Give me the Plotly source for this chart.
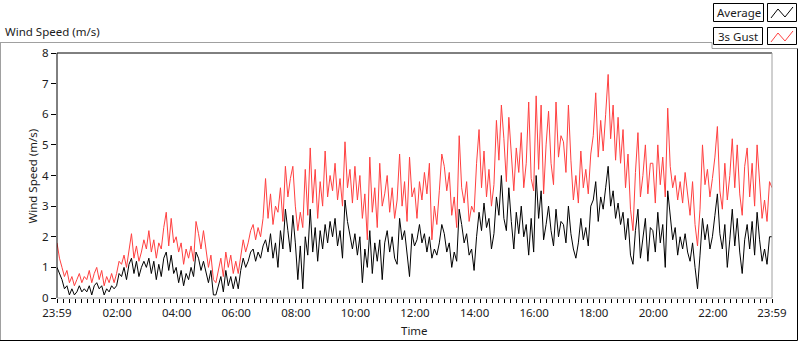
import pandas as pd
import plotly.graph_objects as go

# ---- data (5-minute samples, 23:59 -> 23:59) ----
gust = [
    1.8, 1.3, 1.0, 0.7, 0.9, 0.5, 0.7, 0.4, 0.6, 0.8, 0.5, 0.7,
    0.6, 0.9, 0.5, 0.8, 1.0, 0.6, 0.9, 0.4, 0.7, 0.5, 0.8, 0.5,
    0.8, 1.2, 1.1, 1.4, 1.0, 1.6, 2.1, 1.3, 1.7, 1.2, 1.5, 1.9,
    1.6, 2.2, 1.5, 1.9, 1.3, 1.8, 1.6, 2.3, 2.8, 1.7, 2.6, 1.8,
    2.0, 1.5, 1.8, 1.1, 1.6, 1.3, 1.7, 1.2, 2.5, 2.1, 1.6, 2.2,
    1.5, 1.0, 1.4, 0.6, 0.5, 0.9, 1.3, 0.7, 1.5, 1.0, 1.4, 0.8,
    1.2, 0.8, 1.4, 1.9, 1.5, 1.8, 2.2, 2.4, 1.9, 2.3, 2.0, 2.6,
    3.9, 2.6, 3.4, 2.4, 3.0, 2.8, 3.6, 2.5, 4.3, 3.3, 3.9, 4.3,
    3.0, 2.2, 2.8, 2.3, 4.2, 2.7, 4.9, 3.1, 4.2, 2.6, 3.8, 3.0,
    4.8, 3.3, 4.0, 3.5, 4.4, 3.2, 3.9, 3.0, 5.1, 3.6, 4.2, 3.1,
    4.3, 3.2, 4.0, 2.6, 3.4, 1.9, 4.6, 2.8, 3.6, 2.3, 4.4, 3.0,
    3.4, 4.0, 2.8, 3.6, 2.6, 3.2, 4.7, 3.0, 3.8, 2.5, 4.6, 3.3,
    3.6, 2.6, 3.8, 3.2, 4.1, 3.4, 4.4, 1.9, 3.0, 2.4, 3.5, 4.7,
    4.3, 3.5, 4.1, 2.7, 3.3, 2.3, 5.3, 3.6, 3.1, 3.8, 2.5, 3.0,
    2.8, 4.4, 5.5, 3.6, 4.8, 3.3, 4.2, 3.0, 3.7, 5.8, 4.5, 6.3,
    5.2, 3.8, 5.9, 4.6, 3.5, 4.9, 4.1, 5.4, 3.6, 4.4, 6.4, 3.9,
    3.5, 6.6, 4.2, 6.3, 3.4, 5.0, 6.1, 4.4, 3.7, 6.4, 4.6, 5.3,
    5.1, 4.1, 6.3, 4.5, 3.2, 4.0, 3.1, 4.8, 3.6, 4.2, 3.4, 4.7,
    5.3, 6.7, 4.6, 5.8, 4.8, 6.0, 7.3, 5.2, 6.3, 4.5, 5.9, 4.4,
    5.5, 3.6, 4.7, 2.9, 2.2, 4.1, 5.4, 3.3, 4.0, 5.0, 3.4, 4.4,
    4.4, 3.1, 5.0, 3.7, 4.6, 3.3, 6.2, 4.3, 3.6, 4.0, 3.2, 3.8,
    3.1, 4.1, 3.4, 2.7, 3.8, 2.4, 1.7, 2.9, 5.0, 3.7, 4.2, 3.3,
    3.9, 4.6, 5.6, 3.5, 2.9, 4.4, 3.2, 4.0, 5.2, 3.6, 5.0, 3.4,
    2.7, 4.3, 4.9, 3.3, 4.4, 3.0, 5.0, 3.7, 2.6, 3.2, 2.5, 3.8,
    3.6,
]
average = [
    1.0, 0.8, 0.6, 0.3, 0.4, 0.1, 0.3, 0.1, 0.2, 0.4, 0.2, 0.3,
    0.2, 0.4, 0.1, 0.4, 0.5, 0.3, 0.4, 0.1, 0.3, 0.2, 0.4, 0.3,
    0.4, 0.8, 0.7, 1.0, 0.6, 1.1, 1.3, 0.8, 1.2, 0.7, 1.0, 1.2,
    1.0, 1.3, 0.8, 1.2, 0.6, 1.1, 0.7, 1.3, 1.5, 0.9, 1.4, 0.8,
    1.0, 0.5, 0.9, 0.4, 0.8, 0.6, 1.0, 0.7, 1.5, 1.3, 0.9, 1.2,
    0.8, 0.5, 0.9, 0.1, 0.1, 0.4, 0.7, 0.2, 0.9, 0.4, 0.7, 0.3,
    0.7, 0.3, 0.9, 1.3, 1.0, 1.2, 1.5, 1.6, 1.2, 1.5, 1.3, 1.7,
    1.9, 1.5, 2.1, 1.3, 1.8, 1.0, 2.2, 1.6, 2.9, 2.2, 1.5, 2.7,
    1.8, 0.6, 1.7, 0.3, 2.0, 1.4, 2.9, 1.5, 2.3, 1.2, 2.2, 1.6,
    2.4, 1.8, 2.5, 2.0, 2.6, 1.7, 2.2, 1.3, 3.2, 2.5, 2.0, 1.6,
    2.1, 1.4, 2.0, 0.5, 1.6, 1.0, 2.2, 0.8, 1.8, 1.2, 1.9, 0.6,
    1.8, 2.2, 1.5, 2.0, 1.3, 1.1, 2.6, 1.9, 2.2, 1.5, 0.7, 2.1,
    1.7, 1.9, 2.4, 1.8, 2.1, 1.5, 2.0, 1.3, 1.6, 1.4, 1.8, 2.4,
    2.1, 1.5, 1.8, 1.0, 1.5, 1.2, 2.9, 2.4, 1.8, 2.1, 1.4, 1.6,
    0.9, 2.0, 2.8, 2.2, 3.1, 2.3, 2.6, 1.6, 2.1, 3.3, 2.7, 4.0,
    2.6, 2.2, 3.6, 2.5, 1.6, 2.8, 2.1, 3.0, 2.0, 2.4, 1.4, 2.6,
    1.5, 4.0, 2.6, 3.5, 1.9, 2.4, 3.0, 2.2, 1.7, 2.9, 2.0, 2.5,
    2.4, 1.8, 3.0, 2.1, 1.6, 1.3, 1.8, 2.6, 1.9, 2.3, 1.7, 3.0,
    3.2, 3.8, 2.5, 3.3, 2.9, 3.6, 4.3, 3.0, 3.5, 2.6, 3.1, 2.4,
    2.8, 1.9, 2.6, 1.4, 1.1, 2.2, 2.9, 1.3, 2.0, 2.6, 1.2, 2.3,
    2.2, 1.5, 2.8, 1.8, 2.4, 1.0, 3.5, 2.6, 1.9, 2.3, 1.4, 2.0,
    1.6, 2.1, 1.5, 1.2, 1.8, 1.0, 0.3, 1.4, 2.6, 1.9, 2.4, 1.6,
    2.0, 2.7, 3.4, 2.1, 1.6, 2.4, 1.0, 1.9, 2.9, 1.7, 2.6, 1.5,
    0.8, 1.9, 2.4, 1.6, 2.5, 1.4, 2.8, 1.9, 1.2, 1.6, 1.1, 2.0,
    2.0,
]
start_time = "2024-01-01 23:59"
end_time = "2024-01-02 23:59"
tick_times = ["2024-01-01 23:59", "2024-01-02 02:00", "2024-01-02 04:00",
              "2024-01-02 06:00", "2024-01-02 08:00", "2024-01-02 10:00",
              "2024-01-02 12:00", "2024-01-02 14:00", "2024-01-02 16:00",
              "2024-01-02 18:00", "2024-01-02 20:00", "2024-01-02 22:00",
              "2024-01-02 23:59"]
tick_labels = ["23:59", "02:00", "04:00", "06:00", "08:00", "10:00", "12:00",
               "14:00", "16:00", "18:00", "20:00", "22:00", "23:59"]
y_ticks = [0, 1, 2, 3, 4, 5, 6, 7, 8]

times = pd.date_range(start_time, periods=len(gust), freq="5min")

FONT = "Noto Sans, Open Sans, sans-serif"
FS = 11.5
TXT = "#1b1b1b"

fig = go.Figure()
fig.add_trace(go.Scatter(x=times, y=gust, mode="lines", name="3s Gust",
                         line=dict(color="#ff4040", width=1)))
fig.add_trace(go.Scatter(x=times, y=average, mode="lines", name="Average",
                         line=dict(color="#000000", width=1)))

# plot area in pixels: x 57..772, y 53..298
L, R, T, B = 57, 772, 53, 298
W, H = R - L, B - T


def px(x):
    return (x - L) / W


def py(y):
    return (B - y) / H


shapes = []


def seg(x0, y0, x1, y1, color, width=1):
    shapes.append(dict(type="line", xref="paper", yref="paper",
                       x0=px(x0), y0=py(y0), x1=px(x1), y1=py(y1),
                       line=dict(color=color, width=width)))


# outer frame
seg(0, 42.5, 712, 42.5, "#a0a0a0")
seg(712, 42.5, 712, 48.5, "#a0a0a0")
seg(712, 48.5, 797, 48.5, "#a0a0a0")
seg(0.5, 42.5, 0.5, 340.5, "#a0a0a0")
seg(0, 340.5, 797.5, 340.5, "#000000")
seg(797.5, 48.5, 797.5, 340.5, "#000000")
# plot area border (sunken look)
seg(L, T, R, T, "#000000")
seg(L, T, L, B, "#000000")
seg(L, B, R, B, "#a0a0a0")
seg(R, T, R, B, "#a0a0a0")


def box(x0, y0, x1, y1):
    shapes.append(dict(type="rect", xref="paper", yref="paper",
                       x0=px(x0), y0=py(y0), x1=px(x1), y1=py(y1),
                       line=dict(color="#000000", width=1), fillcolor="white"))


box(713.5, 3.5, 763.5, 21.5)
box(767.5, 3.5, 796.5, 21.5)
box(713.5, 27.5, 762.5, 44.5)
box(767.5, 27.5, 796.5, 44.5)


def zig(y0, color):
    pts = [(771, y0 + 14), (778, y0 + 5), (785, y0 + 13), (793, y0 + 3)]
    d = "M " + " L ".join(f"{px(a):.5f},{py(b):.5f}" for a, b in pts)
    shapes.append(dict(type="path", xref="paper", yref="paper", path=d,
                       line=dict(color=color, width=1)))


zig(4, "#000000")
zig(28, "#ff4040")

annotations = [
    dict(text="Wind Speed (m/s)", xref="paper", yref="paper", x=px(3), y=py(31),
         xanchor="left", yanchor="middle", showarrow=False,
         font=dict(family=FONT, size=FS, color=TXT)),
    dict(text="Wind Speed (m/s)", xref="paper", yref="paper", x=px(32), y=0.5,
         textangle=-90, xanchor="center", yanchor="middle", showarrow=False,
         font=dict(family=FONT, size=FS, color=TXT)),
    dict(text="Time", xref="paper", yref="paper", x=0.5, y=py(330),
         xanchor="center", yanchor="middle", showarrow=False,
         font=dict(family=FONT, size=FS, color=TXT)),
    dict(text="Average", xref="paper", yref="paper", x=px(738.5), y=py(12.5),
         xanchor="center", yanchor="middle", showarrow=False,
         font=dict(family=FONT, size=FS, color=TXT)),
    dict(text="3s Gust", xref="paper", yref="paper", x=px(738), y=py(36),
         xanchor="center", yanchor="middle", showarrow=False,
         font=dict(family=FONT, size=FS, color=TXT)),
]

fig.update_layout(
    width=800, height=342,
    margin=dict(l=L, r=800 - R, t=T, b=342 - B),
    paper_bgcolor="white", plot_bgcolor="white",
    showlegend=False,
    font=dict(family=FONT, size=FS, color=TXT),
    shapes=shapes, annotations=annotations,
    xaxis=dict(type="date", range=[start_time, end_time],
               tickmode="array", tickvals=tick_times, ticktext=tick_labels,
               ticks="outside", ticklen=4, tickcolor="#000000", tickwidth=1,
               showgrid=False, showline=False, zeroline=False,
               tickfont=dict(family=FONT, size=FS, color=TXT),
               minor=dict(tick0="2024-01-02 00:00", dtick=720000,
                          ticks="outside", ticklen=4, tickcolor="#000000",
                          showgrid=False)),
    yaxis=dict(range=[0, 8], tickmode="array", tickvals=y_ticks,
               ticks="outside", ticklen=5, tickcolor="#000000", tickwidth=1,
               showgrid=False, showline=False, zeroline=False,
               tickfont=dict(family=FONT, size=FS, color=TXT)),
)

fig.write_html(
    "out.html",
    config={"displayModeBar": False},
    post_script="document.body.style.margin='0';document.body.style.overflow='hidden';",
)
